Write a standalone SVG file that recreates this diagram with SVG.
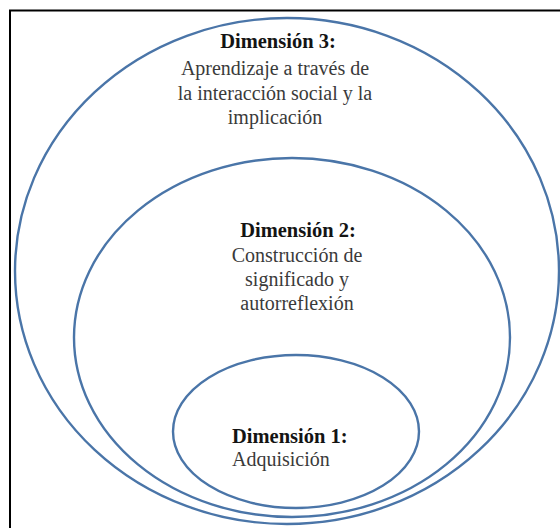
<svg xmlns="http://www.w3.org/2000/svg" width="560" height="528" viewBox="0 0 560 528">
<style>
.ring{fill:none;stroke:#4a75a8;stroke-width:2.4}
.t{font-family:'Liberation Serif','DejaVu Serif',serif;font-size:20px;fill:#3a3a3a}
.b{font-family:'Liberation Serif','DejaVu Serif',serif;font-size:20.5px;font-weight:bold;fill:#141414}
</style>
<rect width="560" height="528" fill="#ffffff"/>
<path d="M10,528 V10.5 H560" fill="none" stroke="#000000" stroke-width="2"/>
<g id="dimension3">
<ellipse class="ring" cx="287" cy="271" rx="272" ry="253"/>
<text class="b" x="278" y="48" text-anchor="middle">Dimensión 3:</text>
<text class="t" x="275" y="75" text-anchor="middle">Aprendizaje a través de</text>
<text class="t" x="275" y="100" text-anchor="middle">la interacción social y la</text>
<text class="t" x="275" y="124" text-anchor="middle">implicación</text>
</g>
<g id="dimension2">
<ellipse class="ring" cx="292" cy="337.5" rx="218" ry="179.5"/>
<text class="b" x="298" y="237" text-anchor="middle">Dimensión 2:</text>
<text class="t" x="297" y="262" text-anchor="middle">Construcción de</text>
<text class="t" x="297" y="286" text-anchor="middle">significado y</text>
<text class="t" x="297" y="310" text-anchor="middle">autorreflexión</text>
</g>
<g id="dimension1">
<ellipse class="ring" cx="296" cy="431.5" rx="123" ry="76.5"/>
<text class="b" x="232" y="443">Dimensión 1:</text>
<text class="t" x="232" y="466">Adquisición</text>
</g>
<g id="connectors"/>
</svg>
